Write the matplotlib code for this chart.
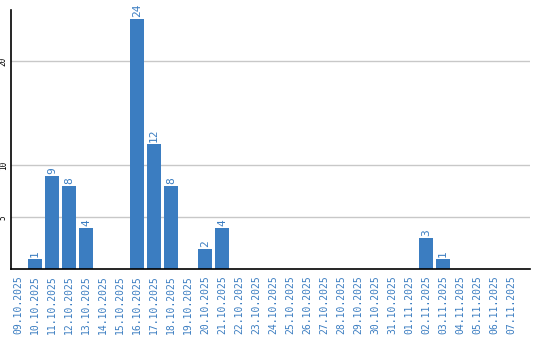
import matplotlib
matplotlib.use("Agg")
import matplotlib.pyplot as plt

dates = ["09.10.2025", "10.10.2025", "11.10.2025", "12.10.2025", "13.10.2025",
         "14.10.2025", "15.10.2025", "16.10.2025", "17.10.2025", "18.10.2025",
         "19.10.2025", "20.10.2025", "21.10.2025", "22.10.2025", "23.10.2025",
         "24.10.2025", "25.10.2025", "26.10.2025", "27.10.2025", "28.10.2025",
         "29.10.2025", "30.10.2025", "31.10.2025", "01.11.2025", "02.11.2025",
         "03.11.2025", "04.11.2025", "05.11.2025", "06.11.2025", "07.11.2025"]
counts = [0, 1, 9, 8, 4, 0, 0, 24, 12, 8, 0, 2, 4, 0, 0,
          0, 0, 0, 0, 0, 0, 0, 0, 0, 3, 1, 0, 0, 0, 0]
y_ticks = [5, 10, 20]

blue = "#3b7dc1"
fig = plt.figure(figsize=(5.4, 3.4), dpi=100)
ax = fig.add_axes([0.0198, 0.2074, 0.9617, 0.7632])

x = list(range(len(dates)))
bars = ax.bar(x, counts, width=0.82, color=blue, zorder=2)
for xi, v in zip(x, counts):
    if v > 0:
        ax.text(xi, v + 0.2, str(v), rotation=90, ha="center", va="bottom",
                color=blue, fontsize=8, family="DejaVu Sans Mono")

ax.set_xlim(-0.43, 30.12)
ax.set_ylim(0, 24.9)
ax.set_yticks(y_ticks)
ax.set_yticklabels([str(t) for t in y_ticks], rotation=90, va="center",
                   fontsize=5.5, family="DejaVu Sans Mono")
ax.grid(axis="y", color="#c8c8c8", linewidth=1, zorder=0)
ax.set_xticks(x)
ax.set_xticklabels(dates, rotation=90, color=blue, fontsize=7,
                   family="DejaVu Sans Mono")
ax.tick_params(length=0)
ax.tick_params(axis="y", pad=2)
ax.tick_params(axis="x", pad=4)
for s in ["top", "right"]:
    ax.spines[s].set_visible(False)
ax.spines["left"].set_linewidth(1.2)
ax.spines["bottom"].set_linewidth(1.2)
ax.spines["left"].set_zorder(3)
ax.spines["bottom"].set_zorder(3)

fig.savefig("out.png", dpi=100)
